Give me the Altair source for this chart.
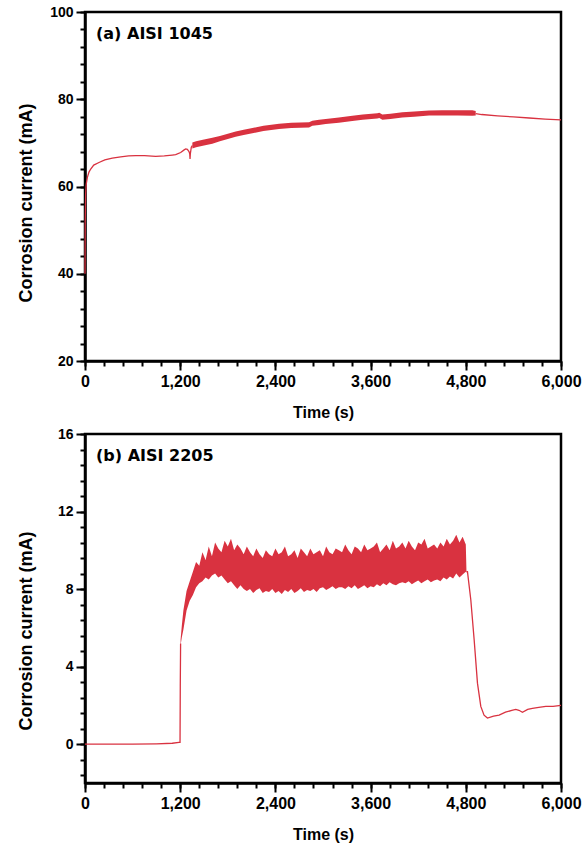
import altair as alt
import pandas as pd

RED = "#d93240"

# ---------------- (a) AISI 1045 ----------------
a_head_t = [0, 3, 8, 15, 30, 50, 72, 110, 176, 250, 344, 450, 550, 639, 750, 891, 1000,
            1100, 1143, 1206, 1250, 1269, 1290, 1311, 1320, 1324, 1328, 1340, 1353]
a_head_v = [40.0, 52.0, 58.3, 60.5, 62.1, 63.3, 64.0, 64.9, 65.5, 66.1, 66.5, 66.8, 67.0, 67.1,
            67.1, 66.9, 67.0, 67.2, 67.3, 67.8, 68.4, 68.6, 68.5, 68.0, 67.5, 66.3, 67.5, 69.0, 69.4]

a_band_t = [1353, 1400, 1500, 1605, 1700, 1800, 1899, 2000, 2110, 2250, 2446, 2600, 2824, 2866,
            2950, 3034, 3200, 3370, 3500, 3685, 3710, 3748, 3850, 4000, 4150, 4337, 4500, 4700,
            4883, 4925]
a_band_hi = [70.1, 70.4, 70.8, 71.2, 71.6, 72.1, 72.6, 73.0, 73.4, 73.9, 74.4, 74.6, 74.7, 75.1,
             75.3, 75.5, 75.8, 76.2, 76.5, 76.8, 76.9, 76.5, 76.7, 77.0, 77.2, 77.4, 77.5, 77.5,
             77.5, 77.3]
a_band_lo = [68.7, 69.0, 69.4, 69.8, 70.4, 70.9, 71.4, 71.8, 72.2, 72.7, 73.2, 73.4, 73.5, 73.9,
             74.1, 74.3, 74.6, 75.0, 75.3, 75.6, 75.7, 75.3, 75.5, 75.8, 76.0, 76.3, 76.3, 76.3,
             76.2, 76.3]

a_tail_t = [4925, 5000, 5200, 5400, 5600, 5800, 6000]
a_tail_v = [76.7, 76.5, 76.2, 75.95, 75.7, 75.45, 75.25]

# ---------------- (b) AISI 2205 ----------------
b_head_t = [0, 300, 600, 900, 1100, 1185, 1198, 1201, 1205]
b_head_v = [0.0, 0.0, 0.0, 0.02, 0.05, 0.1, 0.1, 3.0, 5.2]

b_band_t = [1205, 1220] + list(range(1240, 4801, 40)) + [4808]
b_band_hi = [5.4, 6.1,
             6.9, 7.9, 8.4, 8.9, 9.4, 9.2, 9.9, 9.5, 10.2, 9.7,
             10.4, 10.1, 9.9, 10.5, 10.2, 10.6, 10.0, 10.3, 10.1, 9.8,
             10.2, 9.9, 9.7, 10.1, 9.8, 9.6, 10.0, 9.8, 9.7, 10.1,
             9.8, 9.9, 10.2, 9.7, 9.8, 10.0, 9.6, 10.1, 9.9, 9.7,
             10.1, 9.8, 9.9, 10.0, 9.7, 10.2, 9.9, 9.8, 10.1, 10.0,
             9.9, 10.3, 10.0, 9.8, 10.2, 10.1, 9.9, 10.3, 10.0, 10.1,
             10.2, 10.4, 9.9, 10.1, 10.3, 10.0, 10.5, 10.1, 10.2, 10.4,
             10.1, 10.5, 10.2, 10.0, 10.4, 10.3, 10.6, 10.1, 10.2, 10.3,
             10.1, 10.4, 10.2, 10.6, 10.3, 10.5, 10.8, 10.4, 10.7, 10.3,
             9.0]
b_band_lo = [5.1, 5.5,
             5.9, 6.9, 7.4, 7.7, 8.1, 8.3, 8.4, 8.6, 8.5, 8.7,
             8.8, 8.6, 8.7, 8.5, 8.3, 8.4, 8.2, 8.0, 8.2, 8.0,
             7.9, 8.0, 7.8, 7.95, 8.05, 7.8, 7.9, 7.85, 8.0, 7.8,
             7.9, 7.75, 7.95, 7.85, 8.0, 7.8, 7.9, 8.05, 7.85, 7.95,
             7.9, 8.0, 7.85, 8.05, 8.1, 7.95, 8.05, 8.15, 8.0, 8.1,
             8.1, 8.0, 8.15, 8.05, 8.2, 8.0, 8.1, 8.2, 8.05, 8.15,
             8.1, 8.25, 8.15, 8.3, 8.2, 8.35, 8.25, 8.2, 8.3, 8.35,
             8.3, 8.4, 8.25, 8.35, 8.45, 8.3, 8.4, 8.5, 8.35, 8.45,
             8.5, 8.4, 8.6, 8.5, 8.65, 8.55, 8.8, 8.6, 8.75, 8.9,
             8.85]

b_tail_t = [4808, 4821, 4863, 4905, 4947, 4989, 5030, 5073, 5150, 5220, 5300, 5380, 5430, 5470,
            5514, 5580, 5640, 5720, 5808, 5900, 6000]
b_tail_v = [8.9, 8.9, 7.45, 5.4, 3.15, 1.95, 1.5, 1.35, 1.45, 1.5, 1.65, 1.75, 1.8, 1.75, 1.65,
            1.8, 1.85, 1.9, 1.95, 1.95, 2.0]

# ---------------- ticks ----------------
x_major = [0, 1200, 2400, 3600, 4800, 6000]
x_minor = list(range(0, 6001, 240))
a_y_major = [20, 40, 60, 80, 100]
a_y_minor = list(range(20, 101, 4))
b_y_major = [0, 4, 8, 12, 16]
b_y_minor = [round(-1.6 + 0.8 * i, 1) for i in range(23)]

W, H = 476, 349
FONT = "Liberation Sans"


def lines_df(head_t, head_v, tail_t, tail_v):
    return pd.DataFrame({
        "t": head_t + tail_t,
        "v": head_v + tail_v,
        "seg": ["head"] * len(head_t) + ["tail"] * len(tail_t),
    })


def panel(ldf, bdf, ydom, ymaj, ymin, label, ytitle_dy):
    xscale = alt.Scale(domain=[0, 6000], nice=False, zero=False)
    yscale = alt.Scale(domain=ydom, nice=False, zero=False)
    x_major_axis = alt.Axis(values=x_major, format=",d", orient="bottom", tickSize=9,
                            title="Time (s)", labelFontSize=16, titleFontSize=16,
                            labelPadding=3, titlePadding=15, labelFlush=False,
                            labelOverlap=False)
    y_major_axis = alt.Axis(values=ymaj, orient="left", tickSize=9,
                            title="Corrosion current (mA)", labelFontSize=14,
                            titleFontSize=18, labelPadding=3, titleX=-50,
                            titleY=H / 2 + ytitle_dy, labelOverlap=False)
    x_minor_axis = alt.Axis(values=x_minor, orient="bottom", tickSize=5, labels=False,
                            title=None, domain=False)
    y_minor_axis = alt.Axis(values=ymin, orient="left", tickSize=5, labels=False,
                            title=None, domain=False)
    band = alt.Chart(bdf).mark_area(color=RED, opacity=1).encode(
        x=alt.X("t:Q", scale=xscale, axis=x_major_axis),
        y=alt.Y("lo:Q", scale=yscale, axis=y_major_axis),
        y2="hi:Q",
    )
    line = alt.Chart(ldf).mark_line(color=RED, strokeWidth=1.3).encode(
        x=alt.X("t:Q", scale=xscale, axis=x_minor_axis),
        y=alt.Y("v:Q", scale=yscale, axis=y_minor_axis),
        detail="seg:N",
    )
    txt = alt.Chart(pd.DataFrame({"label": [label]})).mark_text(
        align="left", baseline="middle", font="DejaVu Sans", fontSize=16,
        fontWeight="bold", color="black"
    ).encode(x=alt.value(11), y=alt.value(22), text="label:N")
    return alt.layer(band, line, txt).resolve_axis(
        x="independent", y="independent"
    ).properties(width=W, height=H)


a_lines = lines_df(a_head_t, a_head_v, a_tail_t, a_tail_v)
a_band = pd.DataFrame({"t": a_band_t, "lo": a_band_lo, "hi": a_band_hi})
b_lines = lines_df(b_head_t, b_head_v, b_tail_t, b_tail_v)
b_band = pd.DataFrame({"t": b_band_t, "lo": b_band_lo, "hi": b_band_hi})

top = panel(a_lines, a_band, [20, 100], a_y_major, a_y_minor, "(a) AISI 1045", 16)
bottom = panel(b_lines, b_band, [-2, 16], b_y_major, b_y_minor, "(b) AISI 2205", 22)

chart = alt.vconcat(top, bottom, spacing=3).properties(
    padding={"left": 15, "top": 3, "right": 0, "bottom": 0},
    background="white",
).configure_view(
    stroke="black", strokeWidth=2.5
).configure_axis(
    domainColor="black", domainWidth=2.5, tickColor="black", tickWidth=2,
    labelColor="black", titleColor="black", labelFont=FONT, titleFont=FONT,
    labelFontWeight="bold", titleFontWeight="bold", grid=False,
)

chart.save("out.html", embed_options={"renderer": "svg", "actions": False})
